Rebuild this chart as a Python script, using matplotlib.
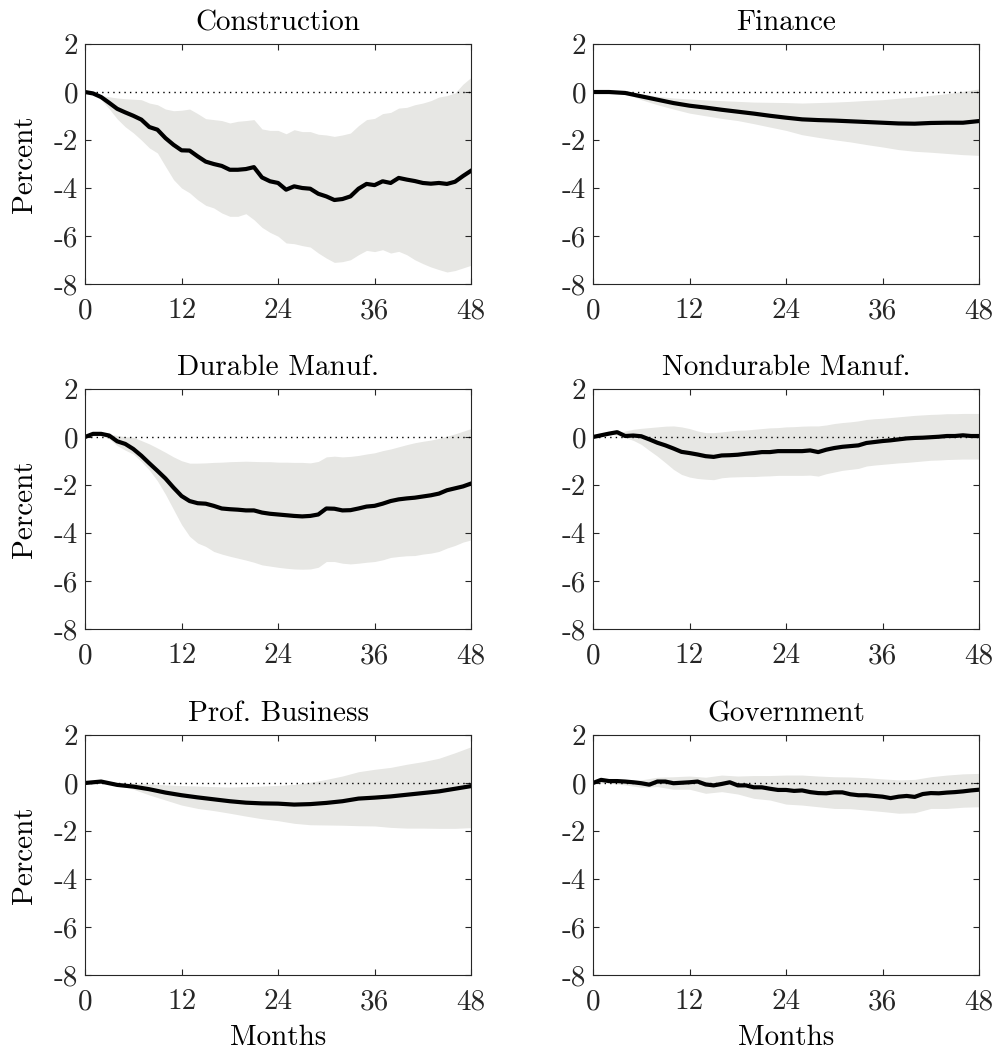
import numpy as np
import matplotlib
matplotlib.use("Agg")
import matplotlib.pyplot as plt

plt.rcParams["font.family"] = "serif"
plt.rcParams["font.serif"] = ["cmr10", "DejaVu Serif"]
plt.rcParams["mathtext.fontset"] = "cm"
plt.rcParams["axes.unicode_minus"] = False

# ---- data (percent, months after shock) ----
MONTHS = np.arange(49)
MONTHS_2 = np.arange(0, 49, 2)

CONS_MEAN = [0, -0.06, -0.21, -0.45, -0.70, -0.85, -0.99, -1.15, -1.46, -1.57,
             -1.92, -2.20, -2.43, -2.44, -2.68, -2.90, -3.00, -3.08, -3.24, -3.24,
             -3.21, -3.13, -3.56, -3.72, -3.79, -4.07, -3.93, -4.00, -4.03, -4.24,
             -4.35, -4.50, -4.46, -4.35, -4.03, -3.83, -3.88, -3.72, -3.79, -3.58,
             -3.65, -3.71, -3.79, -3.82, -3.79, -3.83, -3.74, -3.50, -3.28]
CONS_HI = [0, -0.05, -0.15, -0.20, -0.25, -0.28, -0.30, -0.32, -0.46, -0.53,
           -0.71, -0.78, -0.76, -0.71, -0.90, -1.11, -1.15, -1.19, -1.29, -1.22,
           -1.19, -1.15, -1.54, -1.60, -1.60, -1.74, -1.57, -1.65, -1.65, -1.76,
           -1.79, -1.85, -1.79, -1.71, -1.40, -1.15, -1.10, -0.90, -0.85, -0.67,
           -0.64, -0.53, -0.46, -0.36, -0.21, -0.15, -0.04, 0.33, 0.61]
CONS_LO = [0, -0.12, -0.32, -0.70, -1.12, -1.45, -1.70, -2.00, -2.33, -2.54,
           -3.10, -3.65, -4.00, -4.20, -4.49, -4.72, -4.83, -5.04, -5.18, -5.18,
           -5.07, -5.32, -5.64, -5.85, -6.01, -6.29, -6.32, -6.40, -6.46, -6.71,
           -6.92, -7.10, -7.07, -6.99, -6.78, -6.60, -6.65, -6.57, -6.71, -6.64,
           -6.78, -6.99, -7.15, -7.29, -7.40, -7.50, -7.44, -7.33, -7.22]

FIN_MEAN = [0, 0, -0.04, -0.18, -0.32, -0.46, -0.57, -0.65, -0.74, -0.82, -0.90, -0.99,
            -1.07, -1.14, -1.17, -1.19, -1.22, -1.25, -1.28, -1.31, -1.32, -1.29, -1.28,
            -1.28, -1.21]
FIN_HI = [0, 0, 0, -0.08, -0.18, -0.25, -0.29, -0.33, -0.36, -0.39, -0.42, -0.43,
          -0.44, -0.46, -0.44, -0.42, -0.39, -0.35, -0.32, -0.26, -0.21, -0.14, -0.07,
          0.03, 0.13]
FIN_LO = [0, -0.01, -0.04, -0.32, -0.53, -0.71, -0.88, -0.99, -1.10, -1.19, -1.32, -1.46,
          -1.60, -1.78, -1.89, -1.99, -2.08, -2.19, -2.29, -2.40, -2.47, -2.51, -2.56,
          -2.61, -2.64]

DUR_MEAN = [0, 0.13, 0.13, 0.06, -0.18, -0.29, -0.50, -0.78, -1.10, -1.41,
            -1.73, -2.11, -2.46, -2.67, -2.76, -2.78, -2.87, -2.98, -3.01, -3.03,
            -3.06, -3.06, -3.15, -3.20, -3.23, -3.26, -3.29, -3.31, -3.29, -3.23,
            -2.98, -2.99, -3.06, -3.05, -2.98, -2.90, -2.87, -2.78, -2.67, -2.60,
            -2.56, -2.53, -2.48, -2.43, -2.36, -2.22, -2.14, -2.06, -1.94]
DUR_HI = [0, 0.15, 0.20, 0.13, 0.06, 0.01, -0.01, -0.15, -0.29, -0.46,
          -0.64, -0.83, -0.99, -1.09, -1.09, -1.08, -1.06, -1.05, -1.03, -1.02,
          -1.01, -1.02, -1.03, -1.03, -1.05, -1.05, -1.06, -1.06, -1.08, -1.02,
          -0.83, -0.80, -0.83, -0.81, -0.77, -0.71, -0.66, -0.57, -0.50, -0.41,
          -0.32, -0.24, -0.18, -0.13, -0.06, 0.03, 0.13, 0.24, 0.35]
DUR_LO = [0, 0.05, 0.06, -0.08, -0.36, -0.55, -0.71, -1.02, -1.38, -1.83,
          -2.39, -3.02, -3.65, -4.14, -4.42, -4.56, -4.77, -4.88, -4.97, -5.05,
          -5.13, -5.22, -5.33, -5.38, -5.43, -5.47, -5.50, -5.51, -5.50, -5.43,
          -5.19, -5.19, -5.26, -5.29, -5.26, -5.22, -5.19, -5.12, -5.02, -4.98,
          -4.95, -4.94, -4.88, -4.84, -4.77, -4.63, -4.52, -4.38, -4.29]

NDUR_MEAN = [0, 0.07, 0.14, 0.20, 0.04, 0.06, 0.03, -0.10, -0.24, -0.35,
             -0.48, -0.62, -0.67, -0.73, -0.80, -0.83, -0.77, -0.76, -0.74, -0.70,
             -0.67, -0.63, -0.63, -0.59, -0.59, -0.59, -0.59, -0.56, -0.63, -0.53,
             -0.46, -0.41, -0.38, -0.35, -0.25, -0.21, -0.17, -0.14, -0.10, -0.06,
             -0.04, -0.03, -0.01, 0.01, 0.04, 0.04, 0.07, 0.04, 0.04]
NDUR_HI = [0, 0.06, 0.11, 0.15, 0.25, 0.32, 0.36, 0.39, 0.42, 0.45,
           0.46, 0.42, 0.35, 0.25, 0.18, 0.18, 0.21, 0.25, 0.28, 0.29,
           0.32, 0.35, 0.38, 0.39, 0.42, 0.43, 0.45, 0.46, 0.46, 0.50,
           0.56, 0.60, 0.63, 0.67, 0.73, 0.76, 0.78, 0.81, 0.84, 0.87,
           0.90, 0.92, 0.94, 0.95, 0.97, 0.97, 0.98, 0.98, 0.98]
NDUR_LO = [0, 0.05, 0.11, 0.08, -0.03, -0.14, -0.31, -0.56, -0.80, -1.07,
           -1.35, -1.56, -1.67, -1.73, -1.76, -1.78, -1.70, -1.67, -1.66, -1.65,
           -1.65, -1.63, -1.62, -1.60, -1.60, -1.60, -1.60, -1.59, -1.63, -1.53,
           -1.46, -1.39, -1.35, -1.31, -1.21, -1.17, -1.14, -1.11, -1.08, -1.06,
           -1.03, -1.00, -0.97, -0.96, -0.94, -0.93, -0.92, -0.92, -0.92]

PROF_MEAN = [0, 0.06, -0.08, -0.15, -0.26, -0.40, -0.51, -0.60, -0.68, -0.76, -0.82, -0.85,
             -0.86, -0.90, -0.88, -0.83, -0.76, -0.65, -0.61, -0.56, -0.49, -0.42, -0.35,
             -0.24, -0.13]
PROF_HI = [0, 0.03, 0.01, -0.01, -0.04, -0.08, -0.11, -0.13, -0.15, -0.17, -0.15, -0.13,
           -0.10, -0.06, 0.03, 0.15, 0.29, 0.47, 0.57, 0.65, 0.78, 0.89, 1.03,
           1.26, 1.51]
PROF_LO = [0, 0.03, -0.08, -0.26, -0.50, -0.71, -0.92, -1.06, -1.15, -1.26, -1.38, -1.49,
           -1.57, -1.68, -1.74, -1.75, -1.76, -1.78, -1.79, -1.85, -1.88, -1.88, -1.89,
           -1.89, -1.86]

GOV_MEAN = [0, 0.13, 0.08, 0.08, 0.06, 0.03, -0.01, -0.07, 0.06, 0.06,
            -0.01, 0.01, 0.03, 0.06, -0.06, -0.10, -0.04, 0.03, -0.10, -0.10,
            -0.18, -0.18, -0.24, -0.29, -0.29, -0.33, -0.31, -0.38, -0.42, -0.43,
            -0.39, -0.39, -0.47, -0.51, -0.51, -0.54, -0.57, -0.63, -0.57, -0.54,
            -0.58, -0.46, -0.42, -0.43, -0.40, -0.38, -0.35, -0.31, -0.28]
GOV_HI = [0, 0.19, 0.15, 0.13, 0.24, 0.26, 0.29, 0.24, 0.33, 0.29, 0.31, 0.31,
          0.33, 0.33, 0.29, 0.26, 0.25, 0.22, 0.17, 0.13, 0.15, 0.26, 0.33,
          0.38, 0.40]
GOV_LO = [0, -0.01, -0.08, -0.18, -0.15, -0.26, -0.26, -0.43, -0.36, -0.46, -0.64, -0.71,
          -0.88, -0.92, -0.99, -1.06, -1.07, -1.13, -1.19, -1.26, -1.24, -1.06, -1.06,
          -1.01, -0.99]

TITLES = ["Construction", "Finance", "Durable Manuf.", "Nondurable Manuf.",
          "Prof. Business", "Government"]
PANELS = [
    (MONTHS, CONS_MEAN, MONTHS, CONS_LO, CONS_HI),
    (MONTHS_2, FIN_MEAN, MONTHS_2, FIN_LO, FIN_HI),
    (MONTHS, DUR_MEAN, MONTHS, DUR_LO, DUR_HI),
    (MONTHS, NDUR_MEAN, MONTHS, NDUR_LO, NDUR_HI),
    (MONTHS_2, PROF_MEAN, MONTHS_2, PROF_LO, PROF_HI),
    (MONTHS, GOV_MEAN, MONTHS_2, GOV_LO, GOV_HI),
]
XTICKS = [0, 12, 24, 36, 48]
YTICKS = [2, 0, -2, -4, -6, -8]

fig = plt.figure(figsize=(9.97, 10.53), dpi=100)
lefts = [0.0853, 0.5948]
bottoms = [0.7303, 0.4027, 0.0741]
w, h = 0.3872, 0.2279
fs = 21

for i, (title, (xm, mean, xb, lo, hi)) in enumerate(zip(TITLES, PANELS)):
    r, c = divmod(i, 2)
    ax = fig.add_axes([lefts[c], bottoms[r], w, h])
    ax.fill_between(xb, lo, hi, color="#e7e7e4", lw=0)
    ax.axhline(0, color="black", lw=1.0, ls=(0, (1, 3)))
    ax.plot(xm, mean, color="black", lw=3.0, solid_joinstyle="round")
    ax.set_xlim(0, 48)
    ax.set_ylim(-8, 2)
    ax.set_xticks(XTICKS)
    ax.set_xticklabels([str(t) for t in XTICKS])
    ax.set_yticks(YTICKS)
    ax.set_yticklabels([str(t) for t in YTICKS])
    ax.tick_params(direction="in", top=True, right=True, length=4, width=0.8,
                   labelsize=fs, colors="#262626")
    ax.tick_params(axis="x", pad=10)
    ax.tick_params(axis="y", pad=5)
    for sp in ax.spines.values():
        sp.set_color("#262626")
        sp.set_linewidth(0.8)
    ax.set_title(title, fontsize=fs, pad=10)
    if c == 0:
        ax.set_ylabel("Percent", fontsize=fs, labelpad=11)
    if r == 2:
        ax.set_xlabel("Months", fontsize=fs, labelpad=7)

fig.savefig("out.png", dpi=100)
